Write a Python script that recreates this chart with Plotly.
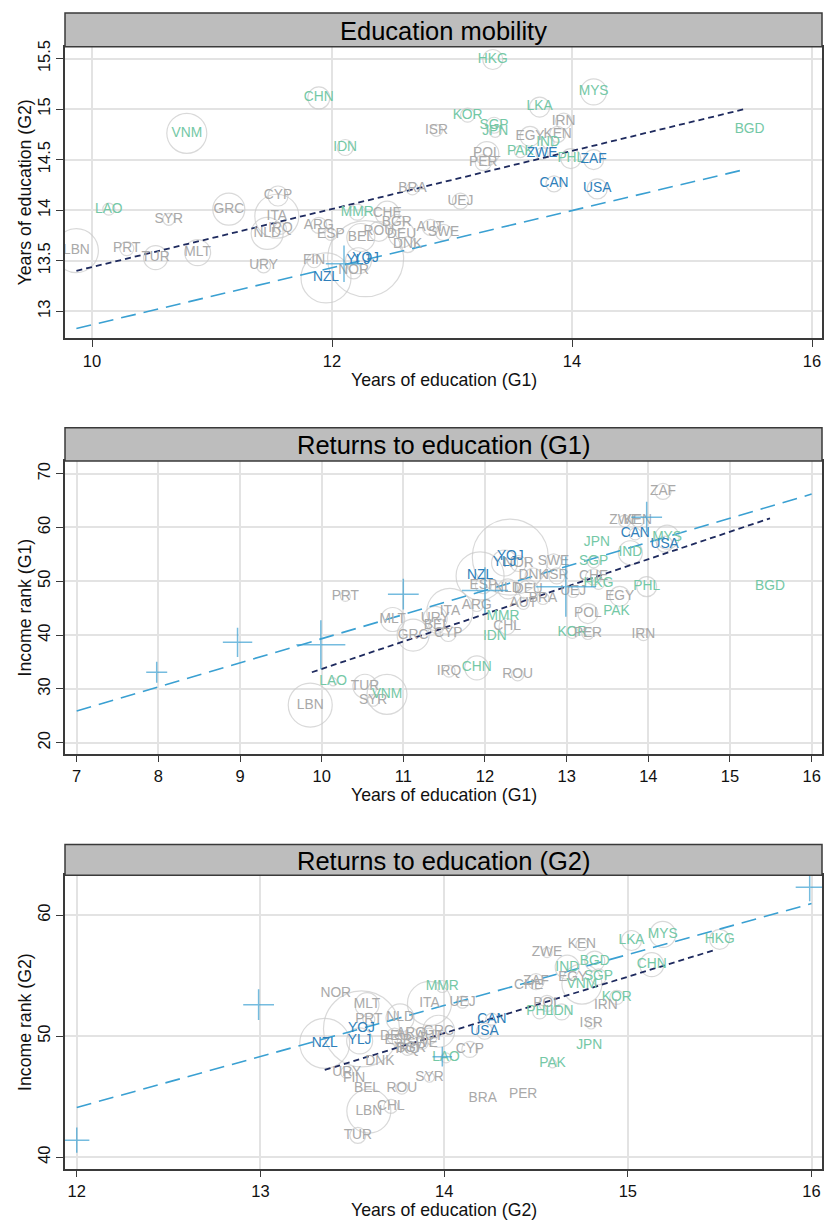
import plotly.graph_objects as go

W, H = 824, 1220
FONT = "Liberation Sans, Arial, Helvetica, sans-serif"

# ---------------- Panel 1: Education mobility ----------------
p1_code = ["LBN", "LAO", "PRT", "SYR", "TUR", "MLT", "VNM", "GRC", "CYP", "ITA",
           "IRQ", "NLD", "URY", "CHN", "IDN", "MMR", "ARG", "ESP", "FIN", "NZL",
           "YOJ", "YLJ", "NOR", "BEL", "ROU", "CHE", "BGR", "DEU", "DNK", "BRA",
           "UEJ", "AUT", "SWE", "ISR", "KOR", "HKG", "SGP", "JPN", "POL", "PER",
           "EGY", "KEN", "IRN", "LKA", "IND", "PAK", "ZWE", "PHL", "ZAF", "CAN",
           "USA", "MYS", "BGD"]
p1_x = [9.87, 10.14, 10.29, 10.64, 10.53, 10.88, 10.79, 11.14, 11.55, 11.54,
        11.57, 11.46, 11.43, 11.89, 12.11, 12.21, 11.89, 11.99, 11.85, 11.95,
        12.28, 12.22, 12.18, 12.24, 12.39, 12.46, 12.54, 12.58, 12.63, 12.67,
        13.07, 12.82, 12.93, 12.87, 13.13, 13.34, 13.35, 13.36, 13.29, 13.26,
        13.65, 13.88, 13.93, 13.73, 13.80, 13.57, 13.75, 13.99, 14.18, 13.85,
        14.21, 14.18, 15.48]
p1_y = [13.60, 14.01, 13.62, 13.91, 13.53, 13.58, 14.76, 14.01, 14.14, 13.94,
        13.82, 13.77, 13.45, 15.11, 14.62, 13.98, 13.85, 13.76, 13.50, 13.33,
        13.52, 13.50, 13.40, 13.73, 13.79, 13.97, 13.88, 13.76, 13.66, 14.21,
        14.09, 13.83, 13.78, 14.79, 14.94, 15.49, 14.84, 14.78, 14.56, 14.47,
        14.73, 14.75, 14.88, 15.02, 14.67, 14.58, 14.56, 14.51, 14.50, 14.26,
        14.21, 15.17, 14.80]
p1_r = [22, 6, 7, 6, 12, 13, 20, 16, 10, 22,
        6, 16, 7, 11, 8, 8, 8, 6, 7, 25,
        38, 13, 8, 14, 10, 12, 8, 13, 8, 6,
        8, 8, 8, 6, 7, 10, 8, 6, 12, 8,
        10, 8, 8, 10, 6, 6, 6, 10, 10, 8,
        10, 13, 0]
p1_cross_x = [12.10]
p1_cross_y = [13.47]
p1_cross_n = [26]
p1_navy_x = [9.87, 15.44]
p1_navy_y = [13.40, 15.00]
p1_blue_x = [9.87, 15.43]
p1_blue_y = [12.83, 14.40]

# ---------------- Panel 2: Returns to education (G1) ----------------
p2_code = ["PRT", "MLT", "GRC", "LAO", "LBN", "TUR", "SYR", "VNM", "ZAF", "ZWE",
           "KEN", "MYS", "CAN", "USA", "JPN", "IND", "SGP", "CHE", "HKG", "PHL",
           "BGD", "EGY", "POL", "PAK", "KOR", "PER", "IRN", "UEJ", "BRA", "SWE",
           "DNK", "ISR", "NOR", "YOJ", "YLJ", "NZL", "ESP", "NLD", "DEU", "ARG",
           "AUT", "MMR", "CHL", "IDN", "CHN", "IRQ", "ROU", "ITA", "URY", "BEL",
           "CYP"]
p2_x = [10.29, 10.87, 11.12, 10.14, 9.86, 10.53, 10.63, 10.80, 14.18, 13.71,
        13.87, 14.23, 13.84, 14.20, 13.37, 13.78, 13.33, 13.33, 13.39, 13.98,
        15.49, 13.65, 13.26, 13.61, 13.07, 13.26, 13.94, 13.08, 12.71, 12.84,
        12.59, 12.88, 12.41, 12.31, 12.24, 11.94, 11.98, 12.28, 12.53, 11.90,
        12.47, 12.22, 12.27, 12.12, 11.90, 11.56, 12.40, 11.57, 11.39, 11.41,
        11.55]
p2_y = [47.2, 42.9, 40.0, 31.3, 27.0, 30.5, 27.9, 29.0, 66.7, 61.2,
        61.2, 58.2, 58.8, 56.9, 57.1, 55.3, 53.6, 50.8, 49.6, 49.0,
        49.0, 47.2, 44.0, 44.4, 40.5, 40.3, 40.1, 48.1, 46.8, 53.6,
        51.0, 51.0, 53.3, 54.5, 53.4, 51.0, 49.2, 48.6, 48.4, 45.5,
        45.9, 43.5, 41.6, 39.8, 33.9, 33.3, 32.6, 44.4, 43.1, 41.8,
        40.3]
p2_r = [5, 12, 16, 4, 22, 12, 6, 20, 8, 6,
        6, 12, 6, 8, 0, 12, 6, 8, 6, 10,
        0, 10, 10, 0, 6, 6, 6, 6, 6, 8,
        8, 8, 8, 38, 13, 24, 8, 10, 10, 6,
        6, 0, 8, 0, 12, 6, 6, 23, 12, 8,
        8]
p2_cross_x = [7.98, 8.97, 9.99, 11.00, 12.00, 12.99, 13.98]
p2_cross_y = [33.1, 38.65, 38.2, 47.6, 48.3, 49.0, 61.9]
p2_cross_n = [15, 21, 35, 22, 33, 43, 22]
p2_navy_x = [9.88, 15.49]
p2_navy_y = [33.1, 61.7]
p2_blue_x = [7.0, 16.0]
p2_blue_y = [25.9, 66.2]

# ---------------- Panel 3: Returns to education (G2) ----------------
p3_code = ["NOR", "MLT", "PRT", "NLD", "YOJ", "YLJ", "NZL", "DNK", "URY", "FIN",
           "BEL", "ROU", "LBN", "CHL", "TUR", "HKG", "MYS", "LKA", "CHN", "KEN",
           "ZWE", "BGD", "IND", "SGP", "EGY", "VNM", "ZAF", "CHE", "KOR", "IRN",
           "POL", "PHL", "IDN", "ISR", "JPN", "PAK", "BRA", "PER", "SYR", "CYP",
           "LAO", "CAN", "USA", "MMR", "ITA", "UEJ", "GRC", "IRQ", "ESP", "ARG",
           "DEU", "SWE", "AUT", "BGR"]
p3_x = [13.41, 13.58, 13.59, 13.76, 13.55, 13.54, 13.35, 13.65, 13.47, 13.51,
        13.58, 13.77, 13.59, 13.71, 13.53, 15.50, 15.19, 15.02, 15.13, 14.75,
        14.56, 14.82, 14.67, 14.84, 14.70, 14.75, 14.50, 14.46, 14.94, 14.88,
        14.56, 14.52, 14.64, 14.80, 14.79, 14.59, 14.21, 14.43, 13.92, 14.14,
        14.01, 14.26, 14.22, 13.99, 13.92, 14.10, 13.97, 13.80, 13.75, 13.82,
        13.73, 13.88, 13.92, 13.82]
p3_y = [53.5, 52.6, 51.4, 51.5, 50.6, 49.6, 49.4, 47.9, 47.0, 46.5,
        45.7, 45.7, 43.8, 44.2, 41.8, 58.0, 58.4, 57.9, 55.9, 57.55,
        56.9, 56.2, 55.7, 54.9, 54.8, 54.3, 54.5, 54.2, 53.2, 52.5,
        52.7, 52.0, 52.0, 51.0, 49.2, 47.7, 44.8, 45.2, 46.6, 48.9,
        48.2, 51.4, 50.4, 54.1, 52.7, 52.8, 50.4, 48.9, 49.6, 50.2,
        50.0, 49.4, 50.0, 49.0]
p3_r = [0, 12, 6, 14, 38, 13, 25, 0, 6, 0,
        0, 6, 22, 7, 8, 10, 13, 10, 12, 6,
        5, 10, 12, 8, 0, 20, 8, 0, 7, 0,
        8, 7, 8, 5, 0, 4, 0, 0, 5, 8,
        5, 6, 8, 6, 22, 6, 16, 6, 6, 6,
        8, 6, 8, 6]
p3_cross_x = [12.00, 12.99, 13.99, 15.99]
p3_cross_y = [41.4, 52.6, 48.3, 62.3]
p3_cross_n = [18, 22, 14, 20]
p3_navy_x = [13.35, 15.48]
p3_navy_y = [47.2, 57.15]
p3_blue_x = [12.0, 16.0]
p3_blue_y = [44.1, 60.95]

titles = ["Education mobility", "Returns to education (G1)", "Returns to education (G2)"]
xtitles = ["Years of education (G1)", "Years of education (G1)", "Years of education (G2)"]
ytitles = ["Years of education (G2)", "Income rank (G1)", "Income rank (G2)"]
p1_xticks = [10, 12, 14, 16]
p1_yticks = [13, 13.5, 14, 14.5, 15, 15.5]
p2_xticks = [7, 8, 9, 10, 11, 12, 13, 14, 15, 16]
p2_yticks = [20, 30, 40, 50, 60, 70]
p3_xticks = [12, 13, 14, 15, 16]
p3_yticks = [40, 50, 60]

teal_set = {"LAO", "VNM", "CHN", "IDN", "MMR", "KOR", "SGP", "JPN", "HKG", "LKA",
            "MYS", "IND", "PAK", "PHL", "BGD"}
blue_sets = [{"NZL", "YOJ", "YLJ", "CAN", "USA", "ZWE", "ZAF"},
             {"NZL", "YOJ", "YLJ", "CAN", "USA"},
             {"NZL", "YOJ", "YLJ", "CAN", "USA"}]

GRAY_T = "#a9a9a9"
TEAL_T = "#74c8a6"
BLUE_T = "#2f7fba"
CIRC = "#c9c9c9"
CROSS = "#3aa0d2"
NAVY = "#1e2a5e"
FRAME = "#3a3a3a"

# pixel geometry of the panels (plot areas and header strips)
PX_L, PX_R = 65, 822
plots_px = [(40, 333), (456.7, 751), (873.3, 1168.3)]
heads_px = [(6, 40), (423.3, 456.7), (842.3, 873.3)]
xranges = [[9.775, 16.083], [6.857, 16.127], [11.936, 16.057]]
yranges = [[12.735, 15.616], [17.97, 72.33], [39.05, 63.29]]


def fy(py):
    return 1 - py / H


def fx(px):
    return px / W


panels = [
    (p1_code, p1_x, p1_y, p1_r, p1_cross_x, p1_cross_y, p1_cross_n,
     p1_navy_x, p1_navy_y, p1_blue_x, p1_blue_y, p1_xticks, p1_yticks),
    (p2_code, p2_x, p2_y, p2_r, p2_cross_x, p2_cross_y, p2_cross_n,
     p2_navy_x, p2_navy_y, p2_blue_x, p2_blue_y, p2_xticks, p2_yticks),
    (p3_code, p3_x, p3_y, p3_r, p3_cross_x, p3_cross_y, p3_cross_n,
     p3_navy_x, p3_navy_y, p3_blue_x, p3_blue_y, p3_xticks, p3_yticks),
]

fig = go.Figure()
shapes = []
annotations = []
layout_axes = {}

for i, (codes, xs, ys, rs, cx, cy, cn, nx, ny, bx, by, xt, yt) in enumerate(panels):
    k = i + 1
    xa = "x" if k == 1 else f"x{k}"
    ya = "y" if k == 1 else f"y{k}"
    colors = []
    for c in codes:
        if c in blue_sets[i]:
            colors.append(BLUE_T)
        elif c in teal_set:
            colors.append(TEAL_T)
        else:
            colors.append(GRAY_T)

    fig.add_trace(go.Scatter(
        x=xs, y=ys, mode="markers", xaxis=xa, yaxis=ya, hoverinfo="skip", showlegend=False,
        marker=dict(symbol="circle-open", size=[2 * r for r in rs], color=CIRC,
                    line=dict(width=1.2, color=CIRC))))
    fig.add_trace(go.Scatter(
        x=bx, y=by, mode="lines", xaxis=xa, yaxis=ya, hoverinfo="skip", showlegend=False,
        line=dict(color=CROSS, width=1.6, dash="15px,8px")))
    fig.add_trace(go.Scatter(
        x=nx, y=ny, mode="lines", xaxis=xa, yaxis=ya, hoverinfo="skip", showlegend=False,
        line=dict(color=NAVY, width=1.8, dash="6px,4px")))
    fig.add_trace(go.Scatter(
        x=xs, y=ys, mode="text", text=codes, textposition="middle center",
        xaxis=xa, yaxis=ya, hoverinfo="skip", showlegend=False,
        textfont=dict(family=FONT, size=13.8, color=colors)))
    fig.add_trace(go.Scatter(
        x=cx, y=cy, mode="markers", xaxis=xa, yaxis=ya, hoverinfo="skip", showlegend=False,
        marker=dict(symbol="cross-thin-open", size=cn, color=CROSS,
                    line=dict(width=1.5, color=CROSS))))

    top, bot = plots_px[i]
    common = dict(showline=True, mirror=True, linecolor=FRAME, linewidth=1.5,
                  ticks="outside", ticklen=7, tickcolor=FRAME, tickwidth=1.2,
                  showgrid=True, gridcolor="#e3e3e3", gridwidth=1.5, zeroline=False,
                  tickfont=dict(family=FONT, size=16.5, color="#111111"))
    layout_axes["xaxis" if k == 1 else f"xaxis{k}"] = dict(
        common, domain=[fx(PX_L), fx(PX_R)], range=xranges[i], anchor=ya,
        tickmode="array", tickvals=xt, ticktext=[f"{v:g}" for v in xt])
    layout_axes["yaxis" if k == 1 else f"yaxis{k}"] = dict(
        common, domain=[fy(bot), fy(top)], range=yranges[i], anchor=xa,
        tickmode="array", tickvals=yt, ticktext=[f"{v:g}" for v in yt], tickangle=-90)

    h0, h1 = heads_px[i]
    shapes.append(dict(type="rect", xref="paper", yref="paper",
                       x0=fx(PX_L), x1=fx(PX_R), y0=fy(h1), y1=fy(h0),
                       fillcolor="#bdbdbd", line=dict(color=FRAME, width=1.5), layer="above"))
    annotations.append(dict(text=titles[i], xref="paper", yref="paper",
                            x=fx((PX_L + PX_R) / 2), y=fy((h0 + h1) / 2 + 1),
                            xanchor="center", yanchor="middle", showarrow=False,
                            font=dict(family=FONT, size=25.5, color="#000000")))
    annotations.append(dict(text=xtitles[i], xref="paper", yref="paper",
                            x=fx((PX_L + PX_R) / 2), y=fy(bot + 42),
                            xanchor="center", yanchor="middle", showarrow=False,
                            font=dict(family=FONT, size=17.7, color="#111111")))
    annotations.append(dict(text=ytitles[i], xref="paper", yref="paper",
                            x=fx(25), y=fy((top + bot) / 2),
                            xanchor="center", yanchor="middle", showarrow=False, textangle=-90,
                            font=dict(family=FONT, size=17.7, color="#111111")))

fig.update_layout(
    width=W, height=H, margin=dict(l=0, r=0, t=0, b=0),
    paper_bgcolor="white", plot_bgcolor="white",
    shapes=shapes, annotations=annotations, showlegend=False,
    **layout_axes)

fig.write_html("out.html")
